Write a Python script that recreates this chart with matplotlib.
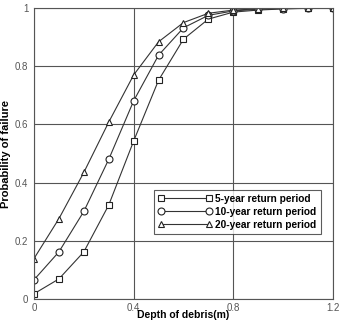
import numpy as np
import matplotlib.pyplot as plt

depth = [0, 0.1, 0.2, 0.3, 0.4, 0.5, 0.6, 0.7, 0.8, 0.9, 1.0, 1.1, 1.2]
p5 = [0.018, 0.069, 0.162, 0.323, 0.543, 0.752, 0.893, 0.962, 0.986, 0.993, 0.997, 0.999, 1.0]
p10 = [0.066, 0.162, 0.301, 0.480, 0.681, 0.838, 0.932, 0.975, 0.990, 0.996, 0.998, 0.999, 1.0]
p20 = [0.139, 0.276, 0.435, 0.608, 0.770, 0.884, 0.950, 0.982, 0.993, 0.997, 0.999, 1.0, 1.0]

plt.rcParams['font.family'] = ['Liberation Sans', 'DejaVu Sans']

fig = plt.figure(figsize=(3.41, 3.21), dpi=100)
ax = fig.add_axes([0.0997, 0.0685, 0.8768, 0.9065])

style = dict(color='#333333', lw=0.8, mfc='white', mec='#222222', mew=0.8, ms=5)
ax.plot(depth, p5, marker='s', label='5-year return period', **style)
ax.plot(depth, p10, marker='o', label='10-year return period', **style)
ax.plot(depth, p20, marker='^', label='20-year return period', **style)

ax.set_xlim(0, 1.2)
ax.set_ylim(0, 1)
ax.set_xticks([0, 0.4, 0.8, 1.2])
ax.set_xticklabels(['0', '0.4', '0.8', '1.2'])
ax.set_yticks([0, 0.2, 0.4, 0.6, 0.8, 1])
ax.set_yticklabels(['0', '0.2', '0.4', '0.6', '0.8', '1'])
ax.grid(True, color='#555555', lw=0.8)
ax.tick_params(length=0, labelsize=7, labelcolor='#555555', pad=4)
ax.tick_params(axis='x', pad=3)
for s in ax.spines.values():
    s.set_color('#555555')
    s.set_linewidth(0.8)

ax.set_xlabel('Depth of debris(m)', fontsize=7.5, fontweight='bold')
ax.xaxis.set_label_coords(0.5, -0.038)
ax.set_ylabel('Probability of failure', fontsize=8, fontweight='bold', labelpad=3)

leg = ax.legend(loc='upper left', bbox_to_anchor=(0.4, 0.375), numpoints=2,
                prop={'weight': 'bold', 'size': 7.3},
                frameon=True, fancybox=False, edgecolor='#333333',
                handlelength=5.4, handletextpad=0.3, labelspacing=0.3,
                borderpad=0.4, borderaxespad=0)
leg.get_frame().set_linewidth(0.8)

plt.savefig('out.png', dpi=100)
plt.close()
